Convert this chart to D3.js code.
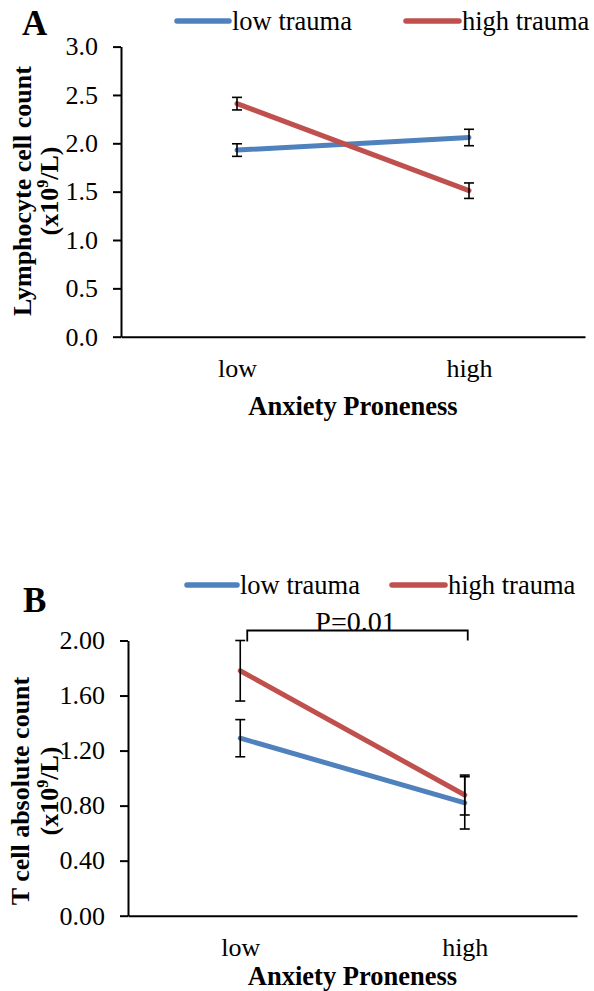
<!DOCTYPE html>
<html>
<head>
<meta charset="utf-8">
<script src="https://cdn.jsdelivr.net/npm/d3@7"></script>
<style>
  html, body { margin: 0; padding: 0; background: #fff; }
  svg { display: block; }
  text { font-family: "Liberation Serif", "Times New Roman", serif; fill: #000; }
</style>
</head>
<body>
<svg id="chart" width="594" height="991"></svg>
<script>
// ---------- data ----------
const categories = ["low", "high"];
const seriesNames = ["low trauma", "high trauma"];
const seriesColors = ["#4F81BD", "#C0504D"];

// Panel A: Lymphocyte cell count (x10^9/L)
const lymphLowTrauma = [1.93, 2.06];
const lymphLowTraumaErr = [0.065, 0.085];
const lymphHighTrauma = [2.41, 1.51];
const lymphHighTraumaErr = [0.065, 0.08];
const yTicksA = [0, 0.5, 1.0, 1.5, 2.0, 2.5, 3.0];

// Panel B: T cell absolute count (x10^9/L)
const tcellLowTrauma = [1.29, 0.82];
const tcellLowTraumaErr = [0.135, 0.19];
const tcellHighTrauma = [1.78, 0.877];
const tcellHighTraumaErr = [0.22, 0.145];
const yTicksB = [0, 0.4, 0.8, 1.2, 1.6, 2.0];

const pLabel = "P=0.01";

// ---------- drawing ----------
const svg = d3.select("#chart");
const SERIF = "'Liberation Serif', 'Times New Roman', serif";

function panel(opts) {
  const g = svg.append("g");
  const x = d3.scalePoint().domain(categories).range(opts.xRange).padding(0.5);
  const y = d3.scaleLinear().domain(opts.yDomain).range(opts.yRange);

  // y axis
  const ya = g.append("g")
    .attr("transform", `translate(${opts.xRange[0]},0)`)
    .call(d3.axisLeft(y).tickValues(opts.yTicks).tickFormat(d3.format(opts.fmt))
      .tickSize(8).tickSizeOuter(0).tickPadding(15));
  ya.selectAll("path,line").attr("stroke", "#000").attr("stroke-width", 2);
  ya.selectAll("text").style("font-family", SERIF).style("font-size", "26px").attr("fill", "#000");

  // x axis
  const xa = g.append("g")
    .attr("transform", `translate(0,${opts.yRange[0]})`)
    .call(d3.axisBottom(x).tickSize(0).tickSizeOuter(0).tickPadding(21.5));
  xa.select("path").attr("stroke", "#000").attr("stroke-width", 2);
  xa.selectAll("text").style("font-family", SERIF).style("font-size", "26px").attr("fill", "#000");

  // lines
  const line = d3.line().x((d, i) => x(categories[i])).y(d => y(d));
  opts.series.forEach((s, k) => {
    g.append("path").datum(s.values)
      .attr("d", line)
      .attr("fill", "none")
      .attr("stroke", seriesColors[k])
      .attr("stroke-width", 5)
      .attr("stroke-linecap", "round");
  });
  // error bars
  opts.series.forEach((s) => {
    s.values.forEach((v, i) => {
      const cx = x(categories[i]);
      const y1 = y(v + s.err[i]), y2 = y(v - s.err[i]);
      const eg = g.append("g").attr("stroke", "#000").attr("stroke-width", 1.6);
      eg.append("line").attr("x1", cx).attr("x2", cx).attr("y1", y1).attr("y2", y2);
      eg.append("line").attr("x1", cx - 5).attr("x2", cx + 5).attr("y1", y1).attr("y2", y1);
      eg.append("line").attr("x1", cx - 5).attr("x2", cx + 5).attr("y1", y2).attr("y2", y2);
    });
  });

  // x title
  g.append("text")
    .attr("x", (opts.xRange[0] + opts.xRange[1]) / 2)
    .attr("y", opts.xTitleY)
    .attr("text-anchor", "middle")
    .attr("font-weight", "bold")
    .style("font-size", "26.5px")
    .text("Anxiety Proneness");

  // y title (two lines)
  g.append("text")
    .attr("transform", `translate(${opts.yTitleX[0]},${opts.yTitleC}) rotate(-90)`)
    .attr("text-anchor", "middle")
    .attr("font-weight", "bold")
    .style("font-size", "26px")
    .text(opts.yTitle);
  const t2 = g.append("text")
    .attr("transform", `translate(${opts.yTitleX[1]},${opts.yTitleC}) rotate(-90)`)
    .attr("text-anchor", "middle")
    .attr("font-weight", "bold")
    .style("font-size", "26px");
  t2.append("tspan").text("(x10");
  t2.append("tspan").style("font-size", "16px").attr("dy", -10).text("9");
  t2.append("tspan").attr("dy", 10).text("/L)");

  // panel letter
  g.append("text")
    .attr("x", opts.letterPos[0]).attr("y", opts.letterPos[1])
    .attr("font-weight", "bold").style("font-size", "35px")
    .text(opts.letter);

  // legend
  opts.legend.forEach((L, k) => {
    g.append("line")
      .attr("x1", L.x1).attr("x2", L.x2).attr("y1", L.y).attr("y2", L.y)
      .attr("stroke", seriesColors[k]).attr("stroke-width", 5.5).attr("stroke-linecap", "round");
    g.append("text")
      .attr("x", L.x2 + 3).attr("y", L.y + 9)
      .style("font-size", "26.5px")
      .text(seriesNames[k]);
  });

  return { g, x, y };
}

panel({
  xRange: [121, 585], yDomain: [0, 3], yRange: [336.7, 46.6], yTicks: yTicksA, fmt: ".1f",
  series: [{ values: lymphLowTrauma, err: lymphLowTraumaErr }, { values: lymphHighTrauma, err: lymphHighTraumaErr }],
  xTitleY: 415,
  yTitle: "Lymphocyte cell count", yTitleX: [31, 58], yTitleC: 191,
  letter: "A", letterPos: [22, 35],
  legend: [{ x1: 177, x2: 229, y: 21 }, { x1: 406, x2: 459, y: 21 }]
});

const B = panel({
  xRange: [128, 577], yDomain: [0, 2], yRange: [915.7, 640.5], yTicks: yTicksB, fmt: ".2f",
  series: [{ values: tcellLowTrauma, err: tcellLowTraumaErr }, { values: tcellHighTrauma, err: tcellHighTraumaErr }],
  xTitleY: 985,
  yTitle: "T cell absolute count", yTitleX: [29, 58], yTitleC: 791,
  letter: "B", letterPos: [23, 612],
  legend: [{ x1: 187, x2: 237, y: 585 }, { x1: 392, x2: 445, y: 585 }]
});

// significance bracket in panel B
{
  const bx1 = B.x(categories[0]) + 7, bx2 = B.x(categories[1]) + 3;
  const by = B.y(2.0) - 10;
  B.g.append("path")
    .attr("d", `M${bx1},${by + 11}V${by}H${bx2}V${by + 10}`)
    .attr("fill", "none").attr("stroke", "#000").attr("stroke-width", 1.8);
  B.g.append("text")
    .attr("x", (bx1 + bx2) / 2 - 2).attr("y", by)
    .attr("text-anchor", "middle").style("font-size", "28px")
    .text(pLabel);
}
</script>
</body>
</html>
